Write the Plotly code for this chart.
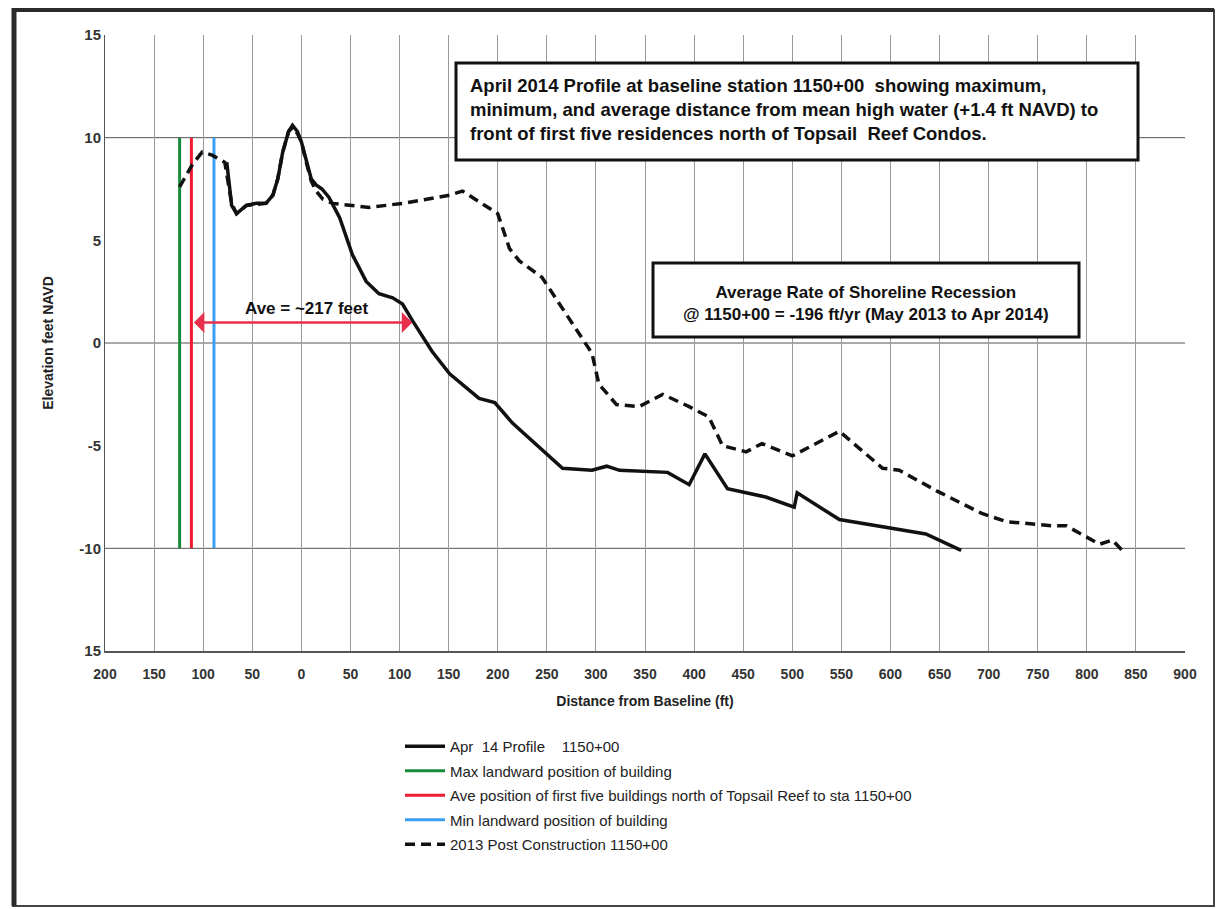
import plotly.graph_objects as go

# ---- Beach profile data (distance from baseline in ft, elevation in ft NAVD) ----
apr14_x = [-76, -73, -71, -66, -61, -56, -46, -36, -29, -24, -19, -13, -9, -4, 0, 5, 10, 15, 21, 28,
           39, 52, 66, 79, 93, 103, 113, 133, 151, 181, 197, 215, 245, 266, 296, 311, 324, 373, 395,
           411, 434, 473, 502, 505, 548, 596, 636, 672]
apr14_y = [8.8, 7.5, 6.7, 6.3, 6.5, 6.7, 6.8, 6.8, 7.2, 8.0, 9.3, 10.3, 10.6, 10.3, 9.8, 8.9, 8.0, 7.7, 7.5, 7.1,
           6.1, 4.3, 3.0, 2.4, 2.2, 1.9, 1.1, -0.4, -1.5, -2.7, -2.9, -3.9, -5.2, -6.1, -6.2, -6.0, -6.2, -6.3, -6.9,
           -5.4, -7.1, -7.5, -8.0, -7.3, -8.6, -9.0, -9.3, -10.1]

post13_x = [-124, -111, -101, -91, -78, -73, -71, -66, -56, -36, -29, -24, -19, -13, -9, -4, 0, 5, 10, 15, 22,
            32, 69, 103, 127, 151, 164, 184, 200, 212, 222, 245, 263, 286, 296, 303, 321, 344, 368, 395, 415,
            429, 453, 469, 500, 548, 592, 609, 647, 693, 718, 765, 779, 813, 826, 838]
post13_y = [7.6, 8.7, 9.3, 9.15, 8.8, 7.5, 6.8, 6.3, 6.7, 6.8, 7.2, 8.0, 9.3, 10.3, 10.5, 10.2, 9.8, 8.8, 7.9, 7.4, 7.0,
            6.8, 6.6, 6.8, 7.0, 7.2, 7.4, 6.8, 6.3, 4.6, 4.0, 3.2, 1.9, 0.25, -0.5, -2.0, -3.0, -3.1, -2.5, -3.1, -3.6,
            -5.0, -5.3, -4.9, -5.5, -4.3, -6.1, -6.2, -7.2, -8.3, -8.7, -8.9, -8.9, -9.8, -9.6, -10.2]

# building positions (ft from baseline), drawn from -10 to +10 ft elevation
bldg_max_x = -124
bldg_ave_x = -112
bldg_min_x = -89
bldg_y = [-10, 10]

# average distance arrow
ave_arrow_x = [-111, 113]
ave_arrow_y = 1.0
ave_label = "Ave = ~217 feet"

x_ticks = list(range(-200, 901, 50))
x_tick_text = [str(abs(v)) for v in x_ticks]
y_ticks = [-15, -10, -5, 0, 5, 10, 15]
y_tick_text = ["15", "-10", "-5", "0", "5", "10", "15"]
y_grid = [-10, 0, 10]

FONT = "Liberation Sans Narrow, Arial Narrow, Liberation Sans, sans-serif"

# plot area in pixels
L, R, T, B = 105, 32, 35, 258
W, H = 1217, 909
PW, PH = W - L - R, H - T - B


def px(xp):
    return (xp - L) / PW


def py(yp):
    return (H - B - yp) / PH


fig = go.Figure()

fig.add_trace(go.Scatter(x=apr14_x, y=apr14_y, mode="lines", name="Apr  14 Profile    1150+00",
                         line=dict(color="#111111", width=3.5), legendgroup="a"))
fig.add_trace(go.Scatter(x=[bldg_max_x, bldg_max_x], y=bldg_y, mode="lines",
                         name="Max landward position of building",
                         line=dict(color="#1a8a3c", width=3), legendgroup="b"))
fig.add_trace(go.Scatter(x=[bldg_ave_x, bldg_ave_x], y=bldg_y, mode="lines",
                         name="Ave position of first five buildings north of Topsail Reef to sta 1150+00",
                         line=dict(color="#ee1c2e", width=3), legendgroup="c"))
fig.add_trace(go.Scatter(x=[bldg_min_x, bldg_min_x], y=bldg_y, mode="lines",
                         name="Min landward position of building",
                         line=dict(color="#3a9ff0", width=3), legendgroup="d"))
fig.add_trace(go.Scatter(x=post13_x, y=post13_y, mode="lines", name="2013 Post Construction 1150+00",
                         line=dict(color="#111111", width=3.5, dash="10px,6px"), legendgroup="e"))

shapes = []
# horizontal grid lines
for g in y_grid:
    shapes.append(dict(type="line", xref="paper", yref="y", x0=0, x1=1, y0=g, y1=g,
                       line=dict(color="#555555", width=1), layer="below"))
# outer frame
shapes.append(dict(type="rect", xref="paper", yref="paper", x0=px(13), x1=px(1214), y0=py(906), y1=py(10),
                   line=dict(color="#444444", width=2)))
shapes.append(dict(type="line", xref="paper", yref="paper", x0=px(14), x1=px(14), y0=py(906), y1=py(8),
                   line=dict(color="#2a2a2a", width=5)))
shapes.append(dict(type="line", xref="paper", yref="paper", x0=px(12), x1=px(1214), y0=py(10), y1=py(10),
                   line=dict(color="#2a2a2a", width=4)))
# text boxes
shapes.append(dict(type="rect", xref="paper", yref="paper", x0=px(456), x1=px(1138), y0=py(160), y1=py(63),
                   line=dict(color="#111111", width=3), fillcolor="white"))
shapes.append(dict(type="rect", xref="paper", yref="paper", x0=px(653), x1=px(1079), y0=py(337), y1=py(263),
                   line=dict(color="#111111", width=3), fillcolor="white"))

annotations = [
    dict(xref="paper", yref="paper", x=px(468), y=py(110), xanchor="left", yanchor="middle", align="left",
         showarrow=False,
         text="April 2014 Profile at baseline station 1150+00  showing maximum,<br>"
              "minimum, and average distance from mean high water (+1.4 ft NAVD) to<br>"
              "front of first five residences north of Topsail  Reef Condos.",
         font=dict(family=FONT, size=18.5, color="#111111", weight="bold")),
    dict(xref="paper", yref="paper", x=px(866), y=py(303), xanchor="center", yanchor="middle", align="center",
         showarrow=False,
         text="Average Rate of Shoreline Recession<br>@ 1150+00 = -196 ft/yr (May 2013 to Apr 2014)",
         font=dict(family=FONT, size=17, color="#111111", weight="bold")),
    dict(x=ave_arrow_x[1], y=ave_arrow_y, ax=ave_arrow_x[0], ay=ave_arrow_y, xref="x", yref="y",
         axref="x", ayref="y", showarrow=True, arrowhead=1, startarrowhead=1, arrowside="end+start",
         arrowsize=1.4, startarrowsize=1.4, arrowwidth=2.5, arrowcolor="#e8304c", text=""),
    dict(x=(ave_arrow_x[0] + ave_arrow_x[1]) / 2 + 5, y=ave_arrow_y, xref="x", yref="y", yanchor="bottom",
         showarrow=False, text=ave_label, yshift=2,
         font=dict(family=FONT, size=17, color="#111111", weight="bold")),
]

fig.update_layout(
    width=W, height=H,
    margin=dict(l=L, r=R, t=T, b=B),
    paper_bgcolor="white", plot_bgcolor="white",
    shapes=shapes, annotations=annotations,
    showlegend=True,
    legend=dict(x=px(400), y=py(730), xanchor="left", yanchor="top", bgcolor="rgba(0,0,0,0)",
                font=dict(family=FONT, size=15, color="#222222"), tracegroupgap=2, itemwidth=40,
                traceorder="grouped"),
    xaxis=dict(range=[-200, 900], tickvals=x_ticks, ticktext=x_tick_text, showgrid=True,
               gridcolor="#9a9a9a", gridwidth=1, zeroline=False, showline=True, linecolor="#555555",
               linewidth=1.5, ticks="", ticklabelstandoff=9,
               tickfont=dict(family=FONT, size=14, color="#333333", weight="bold"),
               title=dict(text="Distance from Baseline (ft)", standoff=16,
                          font=dict(family=FONT, size=14, color="#222222", weight="bold"))),
    yaxis=dict(range=[-15, 15], tickvals=y_ticks, ticktext=y_tick_text, showgrid=False, zeroline=False,
               showline=True, linecolor="#555555", linewidth=1, ticks="",
               tickfont=dict(family=FONT, size=15, color="#333333", weight="bold"),
               title=dict(text="Elevation feet NAVD", standoff=22,
                          font=dict(family=FONT, size=14, color="#222222", weight="bold"))),
)

fig.write_html("out.html")
